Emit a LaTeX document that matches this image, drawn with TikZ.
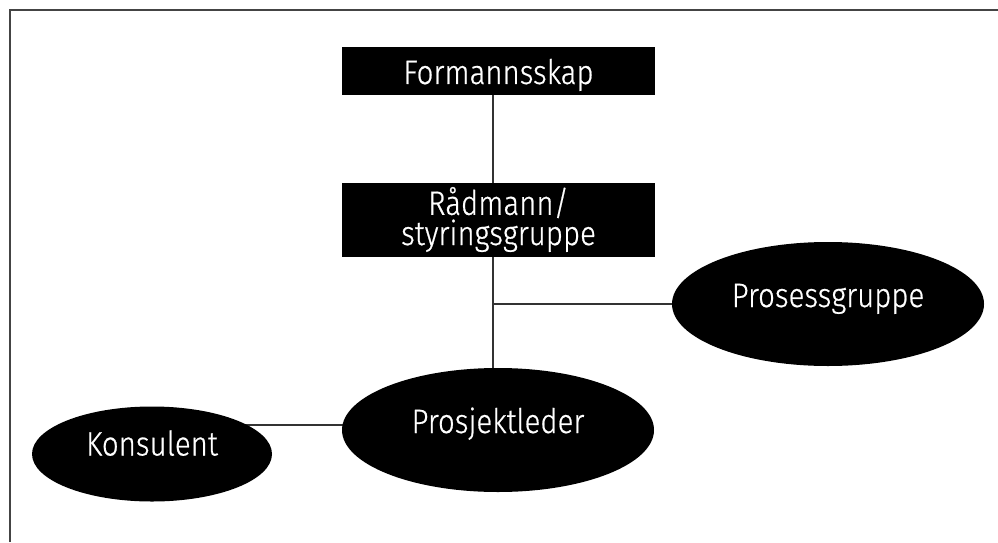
\documentclass[tikz,border=0pt]{standalone}
\usepackage{fontspec}
\setmainfont{Fira Sans Light}[FakeStretch=0.87,FakeBold=0.6]
\usetikzlibrary{shapes.geometric,backgrounds}
\definecolor{framegray}{HTML}{444444}
\definecolor{linegray}{HTML}{333333}
\tikzset{
  box/.style={rectangle, fill=black, text=white, inner sep=0pt,
    minimum width=234.75pt, align=center,
    font={\fontsize{25.4}{18.75}\selectfont}},
  oval/.style={ellipse, fill=black, text=white, inner sep=0pt,
    text height=4.5pt, text depth=0pt,
    font={\fontsize{25.4}{18.75}\selectfont}},
  conn/.style={draw=linegray, line width=0.8pt},
  frame/.style={draw=framegray, line width=1.5pt}
}
\begin{document}
\begin{tikzpicture}[x=0.75pt,y=-0.75pt]
\useasboundingbox (0,0) rectangle (998,542);
\draw[frame] (10,542) -- (10,10) -- (998,10);
\node[box, minimum height=36pt, text height=19.5pt, text depth=0pt] (form) at (498.5,71) {Formannsskap};
\node[box, minimum height=55.5pt] (rad) at (498.5,219.5) {Rådmann/\\styringsgruppe};
\node[oval, minimum width=234pt, minimum height=93pt] (proj) at (498,430) {Prosjektleder};
\node[oval, minimum width=234pt, minimum height=93pt] (pros) at (828,304) {Prosessgruppe};
\node[oval, minimum width=180pt, minimum height=71.25pt, text height=2.25pt] (kons) at (152,454) {Konsulent};
\coordinate (j) at (493,304);
\coordinate (k) at (0,425);
\begin{pgfonlayer}{background}
\draw[conn] (form.center -| j) -- (rad.center -| j);
\draw[conn] (rad.center -| j) -- (j) -- (proj.center -| j);
\draw[conn] (j) -- (pros.center);
\draw[conn] (kons.center |- k) -- (proj.center |- k);
\end{pgfonlayer}
\end{tikzpicture}
\end{document}
